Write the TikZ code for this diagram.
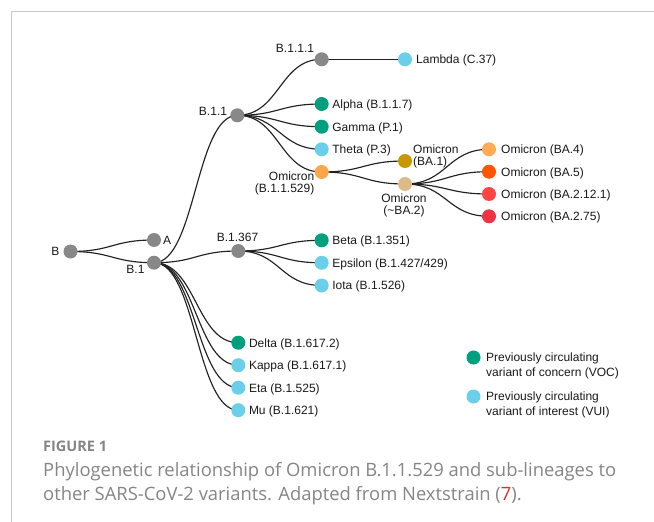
\documentclass[tikz,border=0pt]{standalone}
\usepackage{fontspec}
\setmainfont{Liberation Sans}
\newfontfamily\capfont{Open Sans}
\usetikzlibrary{calc}
\pgfdeclarelayer{bg}
\pgfsetlayers{bg,main}
\definecolor{cgray}{HTML}{888888}
\definecolor{cgreen}{HTML}{00A07E}
\definecolor{cblue}{HTML}{6CCFEA}
\definecolor{comi}{HTML}{FFA64D}
\definecolor{cgold}{HTML}{C99700}
\definecolor{ctan}{HTML}{DDBB88}
\definecolor{cba4}{HTML}{FFAA55}
\definecolor{cba5}{HTML}{FF5500}
\definecolor{cba2121}{HTML}{FF4444}
\definecolor{cba275}{HTML}{EE3344}
\definecolor{cedge}{HTML}{222222}
\definecolor{cframe}{HTML}{C8C8C8}
\definecolor{ccap}{HTML}{858585}
\definecolor{cred}{HTML}{E02B2B}
\newcommand\lnk[2]{\draw[edge] (#1.center) .. controls ($(#1.center)!0.5!(#2.center |- #1.center)$) and ($(#2.center)!0.5!(#1.center |- #2.center)$) .. (#2.center);}
\begin{document}
\begin{tikzpicture}[x=1pt,y=-1pt,
  dot/.style={circle,minimum size=14pt,inner sep=0pt,draw=none},
  edge/.style={draw=cedge,line width=1.15pt},
  lab/.style={inner sep=0pt,font=\fontsize{12}{13}\selectfont,text=black!90,text height=8.6pt,text depth=0pt},
  rl/.style={lab,anchor=west},
  ml/.style={inner sep=0pt,font=\fontsize{12}{12}\selectfont,text=black!90},
  leg/.style={inner sep=0pt,font=\fontsize{12}{15}\selectfont,text=black!90,align=left,anchor=west},
  captxt/.style={inner sep=0pt,font=\capfont\fontsize{18.4}{24}\selectfont,text=ccap,anchor=base west}]
\useasboundingbox (0,0) rectangle (654,522);
\draw[cframe,line width=1pt] (11,522) -- (11,11) -- (654,11);
% tree nodes
\node[dot,fill=cgray] (B) at (70.5,251.5) {};
\node[dot,fill=cgray] (A) at (154,240) {};
\node[dot,fill=cgray] (B1) at (154,262.7) {};
\node[dot,fill=cgray] (B11) at (237.3,115.3) {};
\node[dot,fill=cgray] (B111) at (321.7,59.3) {};
\node[dot,fill=cblue] (Lambda) at (405,59.3) {};
\node[dot,fill=cgreen] (Alpha) at (321.7,104) {};
\node[dot,fill=cgreen] (Gamma) at (321.7,126.7) {};
\node[dot,fill=cblue] (Theta) at (321.7,149.3) {};
\node[dot,fill=comi] (Om) at (321.7,172) {};
\node[dot,fill=cgold] (BA1) at (405,161) {};
\node[dot,fill=ctan] (BA2) at (405,184) {};
\node[dot,fill=cba4] (BA4) at (489,149.3) {};
\node[dot,fill=cba5] (BA5) at (489,171.7) {};
\node[dot,fill=cba2121] (BA2121) at (489,194) {};
\node[dot,fill=cba275] (BA275) at (489,216.3) {};
\node[dot,fill=cgray] (B1367) at (238.3,251) {};
\node[dot,fill=cgreen] (Beta) at (321.7,240.3) {};
\node[dot,fill=cblue] (Eps) at (321.7,262.8) {};
\node[dot,fill=cblue] (Iota) at (321.7,285.5) {};
\node[dot,fill=cgreen] (Delta) at (238.3,342.7) {};
\node[dot,fill=cblue] (Kappa) at (238.3,365.2) {};
\node[dot,fill=cblue] (Eta) at (238.3,387.7) {};
\node[dot,fill=cblue] (Mu) at (238.3,410.2) {};
% edges
\begin{pgfonlayer}{bg}
\lnk{B}{A}
\lnk{B}{B1}
\lnk{B1}{B11}
\lnk{B1}{B1367}
\lnk{B1}{Delta}
\lnk{B1}{Kappa}
\lnk{B1}{Eta}
\lnk{B1}{Mu}
\lnk{B11}{B111}
\draw[edge] (B111.center) -- (Lambda.center);
\lnk{B11}{Alpha}
\lnk{B11}{Gamma}
\lnk{B11}{Theta}
\lnk{B11}{Om}
\lnk{Om}{BA1}
\lnk{Om}{BA2}
\lnk{BA2}{BA4}
\lnk{BA2}{BA5}
\lnk{BA2}{BA2121}
\lnk{BA2}{BA275}
\lnk{B1367}{Beta}
\lnk{B1367}{Eps}
\lnk{B1367}{Iota}
\end{pgfonlayer}
% internal labels
\node[lab,anchor=east] (lB) at (59.5,251.5) {B};
\node[lab,anchor=west] (lA) at (163,240.5) {A};
\node[lab] (lB1) at (135.5,269.5) {B.1};
\node[lab] (lB11) at (213,111) {B.1.1};
\node[lab] (lB111) at (295,48) {B.1.1.1};
\node[lab] (lB1367) at (237.5,237) {B.1.367};
\node[ml,align=right,anchor=east] (lOm) at (314.5,183) {Omicron\\(B.1.1.529)};
\node[ml,align=left,anchor=west] (lBA1) at (413,156.5) {Omicron\\(BA.1)};
\node[ml,align=center] (lBA2) at (404,205.5) {Omicron\\(\char`\~BA.2)};
% tip labels
\node[rl] (lLambda) at ($(Lambda)+(11,0)$) {Lambda (C.37)};
\node[rl] (lAlpha) at ($(Alpha)+(10.5,0)$) {Alpha (B.1.1.7)};
\node[rl] (lGamma) at ($(Gamma)+(10.5,0)$) {Gamma (P.1)};
\node[rl] (lTheta) at ($(Theta)+(10.5,0)$) {Theta (P.3)};
\node[rl] (lBA4) at ($(BA4)+(12,0)$) {Omicron (BA.4)};
\node[rl] (lBA5) at ($(BA5)+(12,0)$) {Omicron (BA.5)};
\node[rl] (lBA2121) at ($(BA2121)+(12,0)$) {Omicron (BA.2.12.1)};
\node[rl] (lBA275) at ($(BA275)+(12,0)$) {Omicron (BA.2.75)};
\node[rl] (lBeta) at ($(Beta)+(10.5,0)$) {Beta (B.1.351)};
\node[rl] (lEps) at ($(Eps)+(10.5,0)$) {Epsilon (B.1.427/429)};
\node[rl] (lIota) at ($(Iota)+(10.5,0)$) {Iota (B.1.526)};
\node[rl] (lDelta) at ($(Delta)+(10.5,0)$) {Delta (B.1.617.2)};
\node[rl] (lKappa) at ($(Kappa)+(10.5,0)$) {Kappa (B.1.617.1)};
\node[rl] (lEta) at ($(Eta)+(10.5,0)$) {Eta (B.1.525)};
\node[rl] (lMu) at ($(Mu)+(10.5,0)$) {Mu (B.1.621)};
% legend
\node[dot,fill=cgreen] (kVOC) at (473.5,357.5) {};
\node[dot,fill=cblue] (kVUI) at (473.5,396.5) {};
\node[leg] (tVOC) at (486,366) {Previously circulating\\variant of concern (VOC)};
\node[leg] (tVUI) at (486,404.5) {Previously circulating\\variant of interest (VUI)};
% caption
\node[inner sep=0pt,anchor=base west,font=\capfont\bfseries\fontsize{14.5}{16}\selectfont,text=ccap] (fig) at (43,451.5) {FIGURE 1};
\node[captxt] (c1) at (43,476) {Phylogenetic relationship of Omicron B.1.1.529 and sub-lineages to};
\node[captxt] (c2) at (43,500) {other SARS-CoV-2 variants. Adapted from Nextstrain (\textcolor{cred}{7}).};
\end{tikzpicture}
\end{document}
